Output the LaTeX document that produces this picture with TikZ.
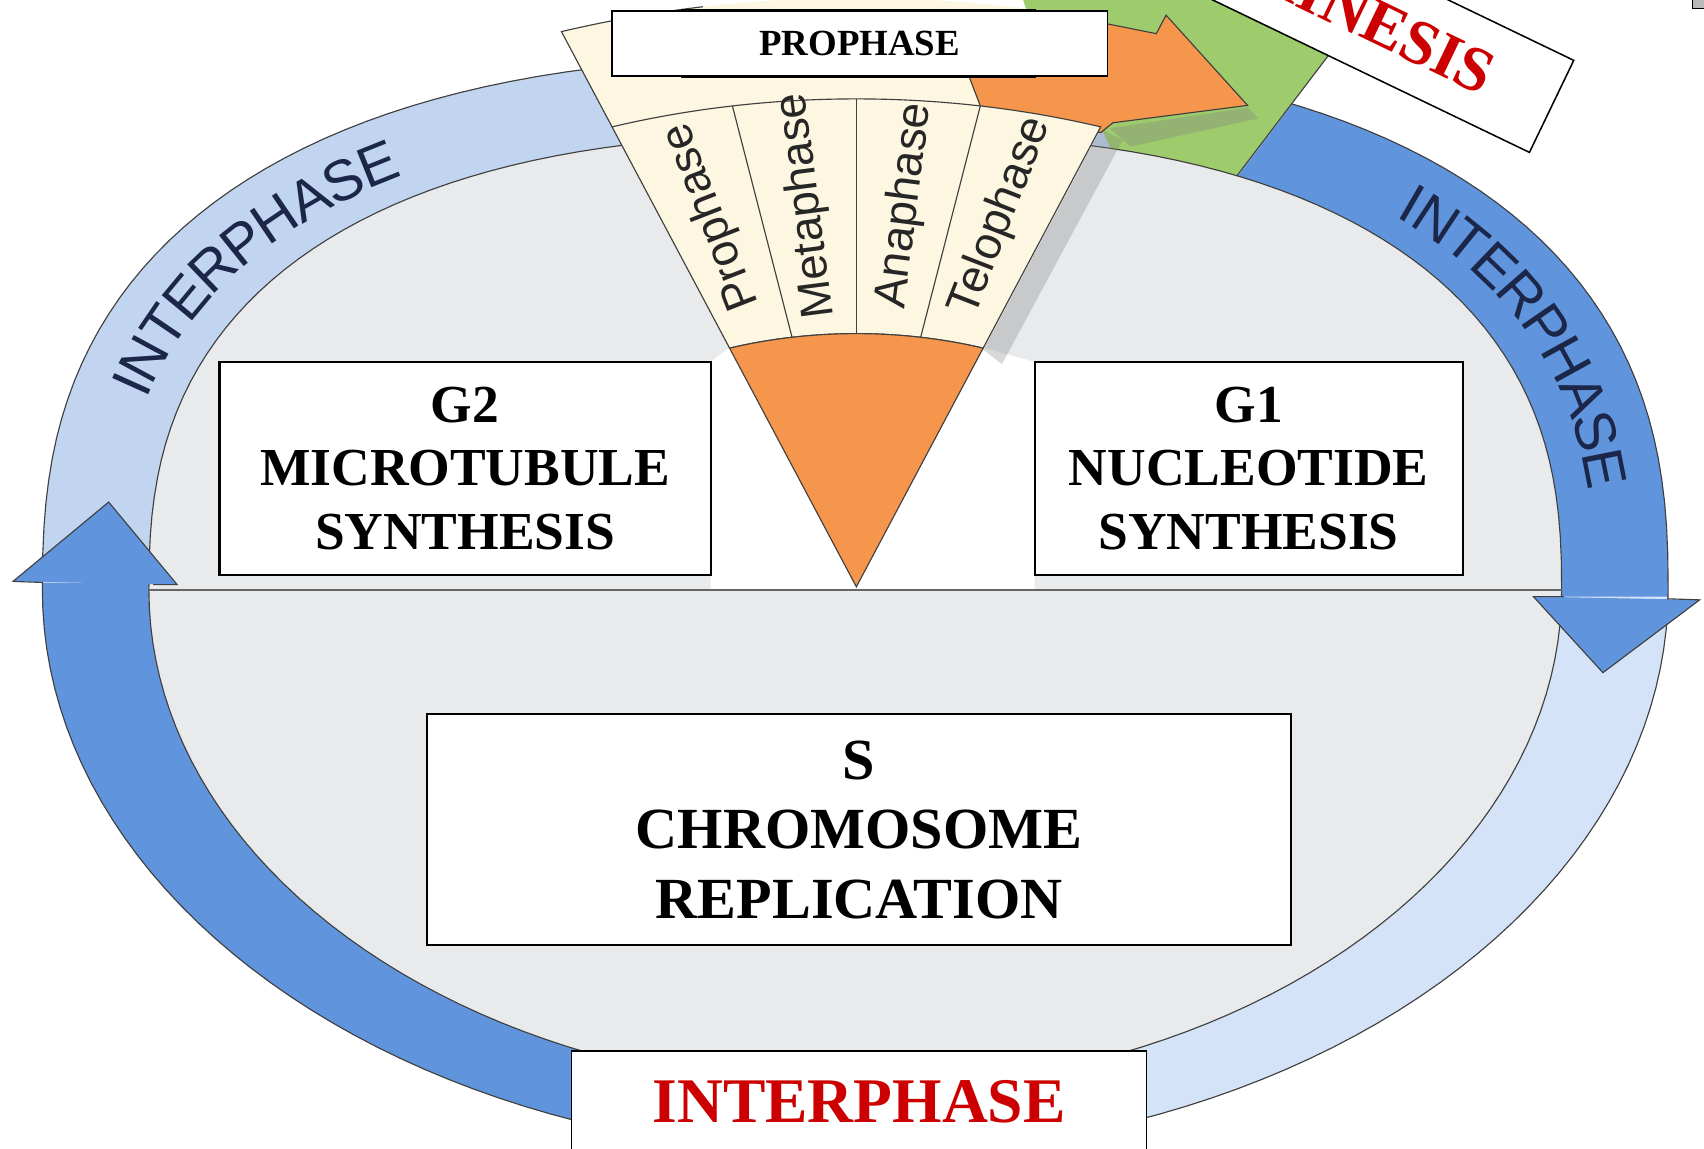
\documentclass[tikz,border=0pt]{standalone}
\usepackage{fontspec}
\setmainfont{Liberation Serif}
\setsansfont{Liberation Sans}
\usetikzlibrary{decorations.text}

\definecolor{ringlight}{RGB}{194,213,240}
\definecolor{ringpale}{RGB}{212,227,247}
\definecolor{ringdark}{RGB}{96,149,221}
\definecolor{inside}{RGB}{232,234,235}
\definecolor{cream}{RGB}{253,246,224}
\definecolor{orangewedge}{RGB}{246,150,76}
\definecolor{cytogreen}{RGB}{158,204,108}
\definecolor{labelred}{RGB}{204,0,0}
\definecolor{ringtext}{RGB}{28,38,72}

\newcommand{\pxu}{0.5691pt}
\newcommand{\ringloop}[3]{plot[domain=0:180, samples=91, variable=\t] ({787+#1*supx(\t)},{514+#2*supy(\t)}) -- plot[domain=180:360, samples=91, variable=\t] ({787+#1*cos(\t)},{514+#3*sin(\t)}) -- cycle}

\begin{document}
\begin{tikzpicture}[x=0.02cm, y=0.02cm,
	declare function={supx(\a)=cos(\a)*exp(-0.2*ln(max(abs(cos(\a)),0.0001)));
		supy(\a)=sin(\a)*exp(-0.2*ln(max(abs(sin(\a)),0.0001)));},
	edge/.style={draw=black!75, line width=0.6pt},
	box/.style={draw, line width=1.1pt, fill=white, align=center, inner sep=0pt, font=\bfseries\fontsize{28}{33.3}\selectfont},
	phase/.style={font=\sffamily\fontsize{24}{24}\selectfont, text=black!85, inner sep=0pt},
	ringlabel/.style={decorate, decoration={text along path, text align=center, text color=ringtext, raise=-10.7pt, text={|\sffamily\fontsize{30}{30}\selectfont|INTERPHASE}}}]
	\useasboundingbox (0,0) rectangle (1568,1057);
	\clip (0,0) rectangle (1568,1057);

	\fill[ringlight] \ringloop{748}{492}{520};
	\begin{scope}
		\clip (790,-20) rectangle (1600,508);
		\fill[ringpale] \ringloop{748}{492}{520};
	\end{scope}
	\begin{scope}
		\clip (-20,-20) rectangle (790,520);
		\fill[ringdark] \ringloop{748}{492}{520};
	\end{scope}
	\begin{scope}
		\clip (1080,817) -- (1300,1107) -- (1700,1107) -- (1700,508) -- (1000,508) -- cycle;
		\fill[ringdark] \ringloop{748}{492}{520};
	\end{scope}
	\draw[edge] \ringloop{748}{492}{520};

	\fill[cytogreen] (940,1062) -- (1265,1062) -- (1110,858) -- (1040,882) -- (1013,940) -- (960,997) -- cycle;
	\draw[edge] (1265,1062) -- (1135,891);

	\fill[inside] \ringloop{650}{420}{460};
	\draw[edge] \ringloop{650}{420}{460};
	\fill[white] (654,514) -- (654,724) -- (671,737) -- (905,737) -- (952,724) -- (952,514) -- cycle;
	\draw[gray!80!black, line width=1.2pt] (137,514) -- (1437,514);

	\fill[ringdark] (12,522) -- (100,595) -- (163,519) -- cycle;
	\draw[edge] (39,521) -- (12,522) -- (100,595) -- (163,519) -- (141,519);
	\fill[ringdark] (1411,508) -- (1475,438) -- (1564,505) -- cycle;
	\draw[edge] (1439,508) -- (1411,508) -- (1475,438) -- (1564,505) -- (1534,506);

	\fill[gray, opacity=0.3] (905,735) -- (1013,938) -- (1033,928) -- (922,722) -- cycle;
	\fill[gray!70!cytogreen, opacity=0.45] (1021,939) -- (1148,958) -- (1158,948) -- (1040,922) -- cycle;

	\begin{scope}[shift={(788,517)}, xscale=1.5]
		\fill[cream] (78:440) -- (78:542) arc[start angle=78, end angle=109.5, radius=542] -- (109.5:440) -- cycle;
		\draw[edge] (109.5:449) -- (109.5:542) arc[start angle=109.5, end angle=100, radius=542];
	\end{scope}

	\path[edge, fill=orangewedge] (880,1017) -- (1019,1035) -- (1064,1026) -- (1073,1043) -- (1148,960) -- (1024,944) -- (1013,935) -- (905,952) -- cycle;

	\begin{scope}[shift={(788,517)}, xscale=1.5]
		\path[edge, fill=cream] (70.5:233) -- (70.5:449) arc[start angle=70.5, end angle=109.5, radius=449] -- (109.5:233) arc[start angle=109.5, end angle=70.5, radius=233] -- cycle;
		\foreach \a in {80.25, 90, 99.75}
			\draw[edge] (\a:233) -- (\a:449);
		\path[edge, fill=orangewedge] (0,0) -- (109.5:233) arc[start angle=109.5, end angle=70.5, radius=233] -- cycle;
		\node[phase, rotate=111.3] (pro) at (104.6:352) {Prophase};
		\node[phase, rotate=97.3] (meta) at (94.9:352) {Metaphase};
		\node[phase, rotate=82.7] (ana) at (85.1:352) {Anaphase};
		\node[phase, rotate=68.7] (telo) at (75.4:352) {Telophase};
	\end{scope}

	\fill[black] (627,1049) rectangle (953,985);
	\node[box, line width=0.9pt, font=\bfseries\fontsize{19.3}{20}\selectfont, minimum width=456*\pxu, minimum height=60*\pxu] (prolabel) at (791,1017) {PROPHASE};

	\node[box, minimum width=452*\pxu, minimum height=196*\pxu] (g2) at (428,626) {G2\\MICROTUBULE\\SYNTHESIS};
	\node[box, minimum width=394*\pxu, minimum height=196*\pxu] (g1) at (1149,626) {G1\\NUCLEOTIDE\\SYNTHESIS};
	\node[box, font=\bfseries\fontsize{30.5}{36.4}\selectfont, minimum width=795*\pxu, minimum height=213*\pxu] (sphase) at (790.5,293.5) {S\\CHROMOSOME\\REPLICATION};
	\node[box, line width=0.8pt, text=labelred, font=\bfseries\fontsize{33.3}{36}\selectfont, minimum width=529*\pxu, minimum height=94*\pxu] (interlabel) at (790.5,43) {INTERPHASE};
	\node[box, line width=0.8pt, text=labelred, font=\bfseries\fontsize{33.3}{36}\selectfont, rotate=-25.7, minimum width=530*\pxu, minimum height=94*\pxu] (cytolabel) at (1189,1074) {CYTOKINESIS};

	\path[ringlabel] plot[domain=178:108, samples=70, variable=\t] ({787+699*supx(\t)},{514+456*supy(\t)});
	\path[ringlabel] plot[domain=58:0, samples=60, variable=\t] ({787+699*supx(\t)},{514+456*supy(\t)});

	\draw[fill=gray!55] (1557,1049) rectangle (1571,1062);
\end{tikzpicture}
\end{document}
